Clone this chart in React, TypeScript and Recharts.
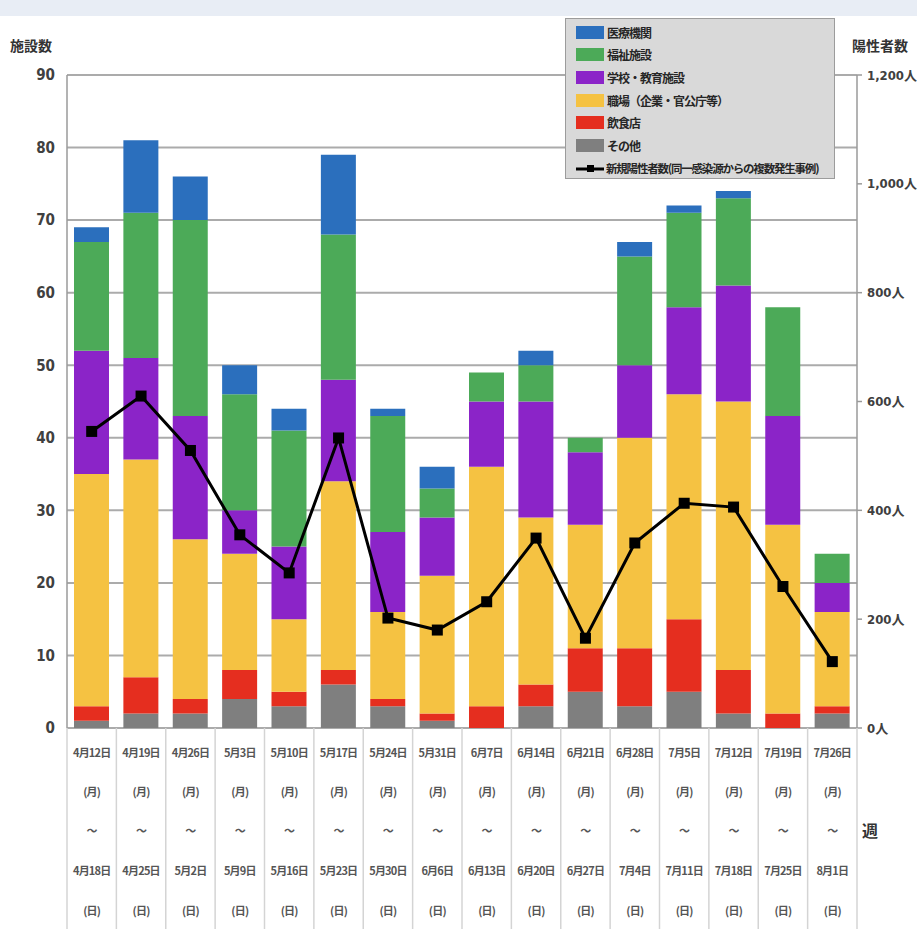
import React from 'react';
import { ComposedChart, Bar, Line, XAxis, YAxis, CartesianGrid, Legend } from 'recharts';

// 週の開始日・終了日
const weekStart = ['4月12日', '4月19日', '4月26日', '5月3日', '5月10日', '5月17日', '5月24日', '5月31日',
  '6月7日', '6月14日', '6月21日', '6月28日', '7月5日', '7月12日', '7月19日', '7月26日'];
const weekEnd = ['4月18日', '4月25日', '5月2日', '5月9日', '5月16日', '5月23日', '5月30日', '6月6日',
  '6月13日', '6月20日', '6月27日', '7月4日', '7月11日', '7月18日', '7月25日', '8月1日'];

// 施設数 (stacked, bottom to top)
const other = [1, 2, 2, 4, 3, 6, 3, 1, 0, 3, 5, 3, 5, 2, 0, 2];
const restaurant = [2, 5, 2, 4, 2, 2, 1, 1, 3, 3, 6, 8, 10, 6, 2, 1];
const workplace = [32, 30, 22, 16, 10, 26, 12, 19, 33, 23, 17, 29, 31, 37, 26, 13];
const school = [17, 14, 17, 6, 10, 14, 11, 8, 9, 16, 10, 10, 12, 16, 15, 4];
const welfare = [15, 20, 27, 16, 16, 20, 16, 4, 4, 5, 2, 15, 13, 12, 15, 4];
const medical = [2, 10, 6, 4, 3, 11, 1, 3, 0, 2, 0, 2, 1, 1, 0, 0];

// 新規陽性者数
const positives = [545, 610, 510, 355, 285, 533, 202, 180, 232, 349, 165, 340, 413, 406, 260, 122];

const leftTicks = [0, 10, 20, 30, 40, 50, 60, 70, 80, 90];
const rightTicks = [0, 200, 400, 600, 800, 1000, 1200];

const series = [
  { key: 'medical', name: '医療機関', color: '#2b6fbd' },
  { key: 'welfare', name: '福祉施設', color: '#4caa58' },
  { key: 'school', name: '学校・教育施設', color: '#8b24c8' },
  { key: 'workplace', name: '職場（企業・官公庁等）', color: '#f5c242' },
  { key: 'restaurant', name: '飲食店', color: '#e52e1f' },
  { key: 'other', name: 'その他', color: '#7f7f7f' },
];
const lineName = '新規陽性者数(同一感染源からの複数発生事例)';

const data = weekStart.map((w, i) => ({
  week: w,
  other: other[i],
  restaurant: restaurant[i],
  workplace: workplace[i],
  school: school[i],
  welfare: welfare[i],
  medical: medical[i],
  positives: positives[i],
}));

const W = 917;
const H = 929;
const PLOT_LEFT = 67;
const PLOT_RIGHT = 857;
const PLOT_TOP = 75;
const PLOT_BOTTOM = 728;

const CJK = "'Noto Sans CJK JP', 'Noto Sans', sans-serif";
const NUM = "'DejaVu Sans Condensed', 'DejaVu Sans', 'Noto Sans CJK JP', sans-serif";

const WeekTick = (props: any) => {
  const { x, y, index } = props;
  const band = (PLOT_RIGHT - PLOT_LEFT) / weekStart.length;
  const lines = [weekStart[index], '(月)', '～', weekEnd[index], '(日)'];
  const offsets = [24, 63, 102, 142, 182];
  return (
    <g>
      <line x1={x - band / 2} x2={x - band / 2} y1={y} y2={H} stroke="#d4d4d4" strokeWidth={1.5} />
      {index === weekStart.length - 1 && (
        <line x1={x + band / 2} x2={x + band / 2} y1={y} y2={H} stroke="#d4d4d4" strokeWidth={1.5} />
      )}
      {lines.map((t, i) => (
        <text key={i} x={x} y={y + offsets[i]} textAnchor="middle" dominantBaseline="central"
          fontFamily={CJK} fontWeight="bold" fontSize={11} letterSpacing={-0.8} fill="#555">
          {t}
        </text>
      ))}
    </g>
  );
};

const SquareDot = (props: any) => {
  const { cx, cy } = props;
  if (cx == null || cy == null) return null;
  return <rect x={cx - 5.5} y={cy - 5.5} width={11} height={11} fill="#000" />;
};

const labelStyle: React.CSSProperties = {
  fontSize: 12, fontWeight: 'bold', color: '#262626', letterSpacing: -1, whiteSpace: 'nowrap',
};

const LegendBox = () => (
  <div style={{
    width: 270, height: 161, boxSizing: 'border-box', background: '#d9d9d9',
    border: '1px solid #9c9c9c', padding: '2px 0 0 10px', fontFamily: CJK, overflow: 'hidden',
  }}>
    {series.map((s) => (
      <div key={s.key} style={{ display: 'flex', alignItems: 'center', height: 22.6 }}>
        <span style={{ width: 28, height: 13, background: s.color, marginRight: 3, flex: 'none' }} />
        <span style={labelStyle}>{s.name}</span>
      </div>
    ))}
    <div style={{ display: 'flex', alignItems: 'center', height: 22.6 }}>
      <svg width={30} height={12} style={{ flex: 'none' }}>
        <line x1={0} x2={28} y1={7} y2={7} stroke="#000" strokeWidth={3} />
        <rect x={11} y={3} width={7} height={7} fill="#000" />
      </svg>
      <span style={{ ...labelStyle, fontSize: 11.5, letterSpacing: -1.2 }}>{lineName}</span>
    </div>
  </div>
);

const fmtPeople = (v: number) => v.toLocaleString('en-US') + '人';

export default function App() {
  return (
    <div style={{ position: 'absolute', left: 0, top: 0, width: W, height: H, background: '#fff', overflow: 'hidden' }}>
      <div style={{ position: 'absolute', left: 0, top: 0, width: W, height: 16, background: '#e8edf5' }} />
      <ComposedChart width={W} height={H} data={data}
        margin={{ top: PLOT_TOP, right: 0, bottom: 0, left: 0 }} barSize={35}>
        <CartesianGrid yAxisId="left" vertical={false} stroke="#ababab" strokeWidth={2} />
        <XAxis dataKey="week" height={H - PLOT_BOTTOM} interval={0} tick={<WeekTick />}
          tickLine={false} axisLine={false} tickSize={0} tickMargin={0} />
        <YAxis yAxisId="left" width={PLOT_LEFT} domain={[0, 90]} ticks={leftTicks} interval={0}
          axisLine={{ stroke: '#9a9a9a', strokeWidth: 1.5 }} tickLine={false} tickMargin={6}
          tick={{ fontFamily: NUM, fontWeight: 'bold', fontSize: 15, fill: '#404040' }} />
        <YAxis yAxisId="right" orientation="right" width={W - PLOT_RIGHT} domain={[0, 1200]} ticks={rightTicks}
          interval={0} tickFormatter={fmtPeople}
          axisLine={{ stroke: '#9a9a9a', strokeWidth: 1.5 }} tickLine={{ stroke: '#9a9a9a', strokeWidth: 1.5 }}
          tickSize={5} tickMargin={5}
          tick={{ fontFamily: NUM, fontWeight: 'bold', fontSize: 13, fill: '#404040' }} />
        {[...series].reverse().map((s) => (
          <Bar key={s.key} yAxisId="left" dataKey={s.key} name={s.name} stackId="a" fill={s.color}
            isAnimationActive={false} />
        ))}
        <Line yAxisId="right" dataKey="positives" name={lineName} type="linear" stroke="#000"
          strokeWidth={3} dot={<SquareDot />} activeDot={false} isAnimationActive={false} />
        <Legend layout="vertical" align="center" verticalAlign="middle" content={<LegendBox />}
          wrapperStyle={{ left: 565, top: 18, width: 270 }} />
        <text x={31} y={45} textAnchor="middle" dominantBaseline="central" fontFamily={CJK}
          fontWeight="bold" fontSize={14} fill="#333">施設数</text>
        <text x={880} y={45} textAnchor="middle" dominantBaseline="central" fontFamily={CJK}
          fontWeight="bold" fontSize={14} fill="#333">陽性者数</text>
        <text x={870} y={830} textAnchor="middle" dominantBaseline="central" fontFamily={CJK}
          fontWeight="bold" fontSize={16} fill="#333">週</text>
      </ComposedChart>
    </div>
  );
}
